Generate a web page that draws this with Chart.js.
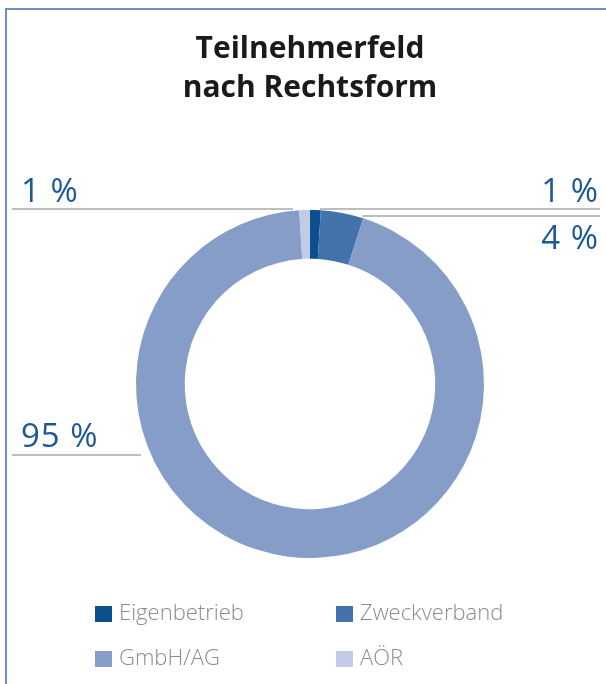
<!DOCTYPE html>
<html lang="de">
<head>
    <meta charset="UTF-8">
    <title>Teilnehmerfeld nach Rechtsform</title>
    <script src="https://cdn.jsdelivr.net/npm/chart.js"></script>
    <style>
        body {
            margin: 0;
            background: white;
        }
        .frame {
            position: absolute;
            left: 5px;
            top: 8px;
            right: 0;
            bottom: 0;
            border-left: 2px solid #6b90c1;
            border-top: 2px solid #6b90c1;
        }
        #wrap {
            position: absolute;
            left: 0;
            top: 0;
            width: 606px;
            height: 684px;
        }
    </style>
</head>
<body>

<div class="frame"></div>
<div id="wrap"><canvas id="donut"></canvas></div>

<script>
    // data
    const categories = ["Eigenbetrieb", "Zweckverband", "GmbH/AG", "AÖR"];
    const shares = [1, 4, 95, 1];
    const colors = ["#0b4f8e", "#4372ad", "#869dc8", "#c1cbe5"];

    const labelFont = "400 33px 'Open Sans'";
    const legendFont = "300 22px 'Open Sans'";

    // where each value label and its leader line sit
    const leaders = [
        { side: "right", lineY: 209, innerX: 320, textY: 202 },
        { side: "right", lineY: 216, innerX: 362, textY: 249 },
        { side: "left",  lineY: 455, innerX: 141, textY: 447 },
        { side: "left",  lineY: 209, innerX: 293, textY: 202 }
    ];

    const labelPlugin = {
        id: "leaderLabels",
        afterDraw(chart) {
            const ctx = chart.ctx;
            const values = chart.data.datasets[0].data;
            ctx.save();
            leaders.forEach((l, i) => {
                ctx.strokeStyle = "#a9a9a9";
                ctx.lineWidth = 1.6;
                ctx.beginPath();
                if (l.side === "right") {
                    ctx.moveTo(l.innerX, l.lineY);
                    ctx.lineTo(600, l.lineY);
                } else {
                    ctx.moveTo(12, l.lineY);
                    ctx.lineTo(l.innerX, l.lineY);
                }
                ctx.stroke();

                ctx.font = labelFont;
                ctx.letterSpacing = "1px";
                ctx.fillStyle = "#1a5897";
                ctx.textBaseline = "alphabetic";
                ctx.textAlign = l.side === "right" ? "right" : "left";
                ctx.fillText(values[i] + " %", l.side === "right" ? 599 : 21, l.textY);
            });
            ctx.letterSpacing = "0px";

            // legend in two columns
            const cols = [95, 336];
            const rows = [614, 659];
            ctx.font = legendFont;
            ctx.textAlign = "left";
            ctx.textBaseline = "middle";
            chart.data.labels.forEach((name, i) => {
                const x = cols[i % 2];
                const y = rows[Math.floor(i / 2)];
                ctx.fillStyle = colors[i];
                ctx.fillRect(x, y - 8, 17, 16);
                ctx.fillStyle = "#8c8c8c";
                ctx.fillText(name, x + 24, y);
            });
            ctx.restore();
        }
    };

    new Chart(document.getElementById("donut"), {
        type: "doughnut",
        data: {
            labels: categories,
            datasets: [{
                data: shares,
                backgroundColor: colors,
                borderWidth: 0,
                hoverOffset: 0
            }]
        },
        options: {
            responsive: true,
            maintainAspectRatio: false,
            animation: false,
            cutout: "72%",
            layout: {
                padding: { left: 136, right: 122, top: 0, bottom: 126 }
            },
            plugins: {
                legend: { display: false },
                tooltip: { enabled: false },
                title: {
                    display: true,
                    text: ["Teilnehmerfeld", "nach Rechtsform"],
                    color: "#1a1a1a",
                    font: { family: "'Open Sans'", size: 30, weight: "bold", lineHeight: 1.3 },
                    padding: { top: 30, bottom: 102 }
                }
            }
        },
        plugins: [labelPlugin]
    });
</script>

</body>
</html>
